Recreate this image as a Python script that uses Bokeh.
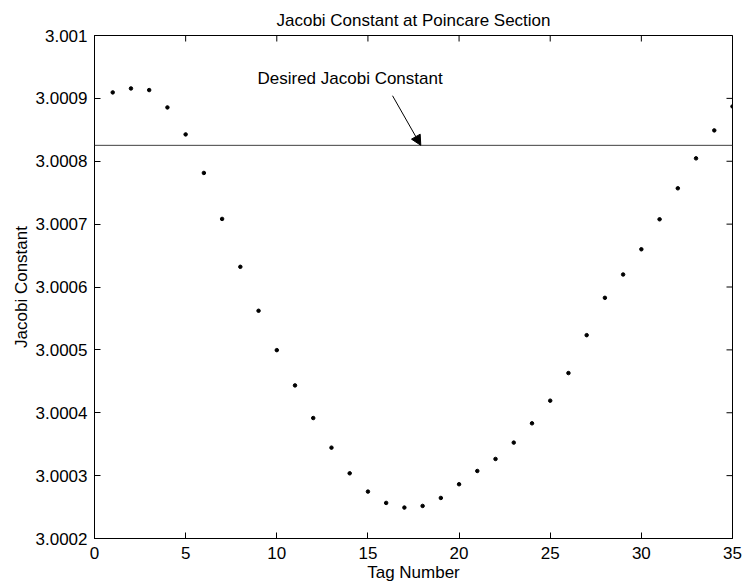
import math
from bokeh.plotting import figure
from bokeh.models import (Range1d, FixedTicker, Span, Arrow, NormalHead,
                          Label, CustomJSTickFormatter, ColumnDataSource)
from bokeh.embed import file_html
from bokeh.resources import INLINE

# ---- data ----
tag_number = list(range(1, 36))
jacobi = [3.0009095, 3.0009158, 3.0009132, 3.0008856, 3.0008427, 3.0007814, 3.0007083,
          3.0006321, 3.0005622, 3.0004996, 3.0004435, 3.0003916, 3.0003445, 3.0003037,
          3.0002746, 3.0002566, 3.0002492, 3.0002518, 3.0002645, 3.0002863, 3.0003074,
          3.0003265, 3.0003525, 3.0003832, 3.0004192, 3.0004631, 3.0005234, 3.0005828,
          3.0006199, 3.00066, 3.0007077, 3.000757, 3.0008046, 3.0008491, 3.0008872]
desired_jacobi = 3.0008253
x_ticks = [0, 5, 10, 15, 20, 25, 30, 35]
y_ticks = [3.0002, 3.0003, 3.0004, 3.0005, 3.0006, 3.0007, 3.0008, 3.0009, 3.001]
title_text = "Jacobi Constant at Poincare Section"
xlabel_text = "Tag Number"
ylabel_text = "Jacobi Constant"
note_text = "Desired Jacobi Constant"
note_pos = (14.02, 3.000932)
arrow_start = (16.35, 3.0009042)
arrow_end = (17.9, desired_jacobi)

FONT = "Liberation Sans"
FS = "17px"

p = figure(width=744, height=585,
           x_range=Range1d(x_ticks[0], x_ticks[-1]),
           y_range=Range1d(y_ticks[0], y_ticks[-1]),
           output_backend="svg", toolbar_location=None,
           min_border_left=94, min_border_right=12, min_border_top=35, min_border_bottom=47,
           background_fill_color="white", border_fill_color="white")

p.grid.visible = False
p.outline_line_color = "black"
p.outline_line_width = 1

p.title.text = title_text
p.title.align = "center"
p.title.text_font = FONT
p.title.text_font_size = FS
p.title.text_font_style = "normal"
p.title.text_color = "black"
p.title.standoff = 12

fmt = CustomJSTickFormatter(code="return tick.toPrecision(6).replace(/0+$/, '').replace(/\\.$/, '');")

def style_axis(ax):
    ax.major_tick_in = 6
    ax.major_tick_out = 0
    ax.minor_tick_in = 0
    ax.minor_tick_out = 0
    ax.axis_line_color = "black"
    ax.major_tick_line_color = "black"
    ax.major_label_text_font = FONT
    ax.major_label_text_font_size = FS
    ax.major_label_text_color = "black"
    ax.axis_label_text_font = FONT
    ax.axis_label_text_font_size = FS
    ax.axis_label_text_font_style = "normal"
    ax.axis_label_text_color = "black"

xa = p.xaxis[0]
xa.ticker = FixedTicker(ticks=x_ticks)
xa.axis_label = xlabel_text
xa.major_label_standoff = 8
xa.axis_label_standoff = 1
style_axis(xa)

ya = p.yaxis[0]
ya.ticker = FixedTicker(ticks=y_ticks)
ya.formatter = fmt
ya.axis_label = ylabel_text
ya.major_label_standoff = 7
ya.axis_label_standoff = 2
style_axis(ya)

# inward ticks on the top and right edges (markers centred on the edge, clipped by the frame)
p.scatter(x=x_ticks, y=[y_ticks[-1]] * len(x_ticks), marker="dash", angle=math.pi / 2,
          size=12, line_color="black", line_width=1)
p.scatter(x=[x_ticks[-1]] * len(y_ticks), y=y_ticks, marker="dash",
          size=12, line_color="black", line_width=1)

p.add_layout(Span(location=desired_jacobi, dimension="width", line_color="#404040", line_width=1))

src = ColumnDataSource(dict(x=tag_number, y=jacobi))
p.scatter("x", "y", source=src, size=3.5, marker="circle", fill_color="black", line_color="black")

p.add_layout(Arrow(x_start=arrow_start[0], y_start=arrow_start[1], x_end=arrow_end[0], y_end=arrow_end[1],
                   line_color="black", line_width=1,
                   end=NormalHead(size=10, fill_color="black", line_color="black")))

p.add_layout(Label(x=note_pos[0], y=note_pos[1], text=note_text, text_align="center",
                   text_baseline="middle", text_font=FONT, text_font_size=FS, text_color="black"))

open("out.html", "w").write(file_html(p, INLINE))
